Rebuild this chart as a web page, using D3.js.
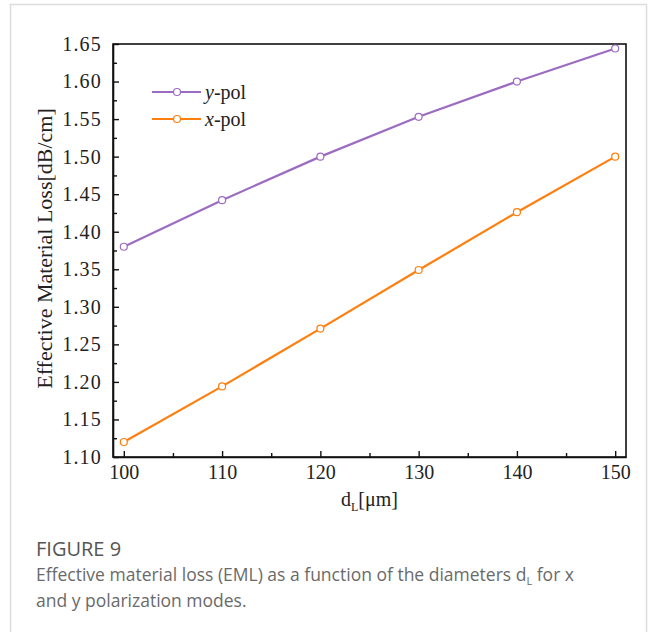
<!DOCTYPE html>
<html>
<head>
<meta charset="utf-8">
<script src="https://cdn.jsdelivr.net/npm/d3@7"></script>
<style>
  body { margin: 0; background: #fff; }
  svg { display: block; }
</style>
</head>
<body>
<svg></svg>
<script>
const width = 656, height = 632;
const margin = { left: 113, right: 30, top: 44, bottom: 175 };

// data
const diameters = [100, 110, 120, 130, 140, 150];
const yPol = [1.380, 1.442, 1.500, 1.553, 1.600, 1.644];
const xPol = [1.120, 1.194, 1.271, 1.349, 1.426, 1.500];
const xTicks = [100, 110, 120, 130, 140, 150];
const yTicks = [1.10, 1.15, 1.20, 1.25, 1.30, 1.35, 1.40, 1.45, 1.50, 1.55, 1.60, 1.65];

const series = [
  { name: "y", values: yPol, color: "#9b6cc1" },
  { name: "x", values: xPol, color: "#ff7f0e" }
];

const svg = d3.select("svg").attr("width", width).attr("height", height)
  .attr("viewBox", [0, 0, width, height]);

// card border
svg.append("rect")
  .attr("x", 10.5).attr("y", 4.5)
  .attr("width", 636).attr("height", 660)
  .attr("fill", "#fff").attr("stroke", "#dcdcdc").attr("stroke-width", 1.5);

const x_scale = d3.scaleLinear().domain([98.9, 151.1]).range([margin.left, width - margin.right]);
const y_scale = d3.scaleLinear().domain([1.10, 1.65]).range([height - margin.bottom, margin.top]);

const serif = "'Liberation Serif', 'DejaVu Serif', serif";

// frame
svg.append("rect")
  .attr("x", margin.left).attr("y", margin.top)
  .attr("width", x_scale.range()[1] - margin.left)
  .attr("height", y_scale.range()[0] - margin.top)
  .attr("fill", "none").attr("stroke", "#111").attr("stroke-width", 1.6);

// y axis
const yAxis = svg.append("g")
  .attr("transform", `translate(${margin.left},0)`)
  .call(d3.axisLeft(y_scale).tickValues(yTicks).tickFormat(d3.format(".2f"))
    .tickSizeInner(-6).tickSizeOuter(0).tickPadding(11));
yAxis.select(".domain").attr("stroke", "#111").attr("stroke-width", 1.6);
yAxis.selectAll("line").attr("stroke", "#111").attr("stroke-width", 1.4);
yAxis.selectAll("text")
  .style("font-family", serif).style("font-size", "20px")
  .attr("letter-spacing", "1.2px").attr("fill", "#222");

// y minor ticks
svg.append("g")
  .attr("transform", `translate(${margin.left},0)`)
  .call(d3.axisLeft(y_scale).tickValues(d3.range(1.125, 1.65, 0.05)).tickFormat("")
    .tickSizeInner(-4).tickSizeOuter(0))
  .call(g => g.select(".domain").remove())
  .selectAll("line").attr("stroke", "#111").attr("stroke-width", 1.4);

// x axis
const xAxis = svg.append("g")
  .attr("transform", `translate(0,${height - margin.bottom})`)
  .call(d3.axisBottom(x_scale).tickValues(xTicks)
    .tickSizeInner(-6).tickSizeOuter(0).tickPadding(8));
xAxis.select(".domain").attr("stroke", "#111").attr("stroke-width", 1.6);
xAxis.selectAll("line").attr("stroke", "#111").attr("stroke-width", 1.4);
xAxis.selectAll("text")
  .style("font-family", serif).style("font-size", "20px").attr("fill", "#222");

// x minor ticks
svg.append("g")
  .attr("transform", `translate(0,${height - margin.bottom})`)
  .call(d3.axisBottom(x_scale).tickValues([105, 115, 125, 135, 145]).tickFormat("")
    .tickSizeInner(-4).tickSizeOuter(0))
  .call(g => g.select(".domain").remove())
  .selectAll("line").attr("stroke", "#111").attr("stroke-width", 1.4);

// x label
const xl = svg.append("text")
  .attr("x", (margin.left + width - margin.right) / 2)
  .attr("y", height - margin.bottom + 49)
  .attr("text-anchor", "middle")
  .style("font-family", serif).style("font-size", "20px").attr("fill", "#222");
xl.append("tspan").text("d");
xl.append("tspan").attr("dy", 5).style("font-size", "12px").text("L");
xl.append("tspan").attr("dy", -5).text("[μm]");

// y label
svg.append("text")
  .attr("transform", `translate(52, ${(margin.top + height - margin.bottom) / 2 - 2}) rotate(-90)`)
  .attr("text-anchor", "middle")
  .style("font-family", serif).style("font-size", "22px").attr("fill", "#222")
  .text("Effective Material Loss[dB/cm]");

// lines
const line_generator = d3.line()
  .x((d, i) => x_scale(diameters[i]))
  .y(d => y_scale(d));

series.forEach(s => {
  svg.append("path")
    .attr("fill", "none")
    .attr("stroke", s.color)
    .attr("stroke-width", 2.2)
    .attr("d", line_generator(s.values));
  svg.append("g").selectAll("circle")
    .data(s.values)
    .join("circle")
    .attr("cx", (d, i) => x_scale(diameters[i]))
    .attr("cy", d => y_scale(d))
    .attr("r", 3.5)
    .attr("fill", "#fff")
    .attr("stroke", s.color)
    .attr("stroke-width", 1.2);
});

// legend
const legend = svg.append("g").attr("transform", "translate(152, 92)");
series.forEach((s, i) => {
  const row = legend.append("g").attr("transform", `translate(0, ${i * 27})`);
  row.append("line").attr("x1", 0).attr("x2", 49)
    .attr("stroke", s.color).attr("stroke-width", 2.2);
  row.append("circle").attr("cx", 25).attr("r", 3.5)
    .attr("fill", "#fff").attr("stroke", s.color).attr("stroke-width", 1.2);
  const t = row.append("text").attr("x", 53).attr("y", 6.5)
    .style("font-family", serif).style("font-size", "20px").attr("fill", "#222");
  t.append("tspan").style("font-style", "italic").text(s.name);
  t.append("tspan").text("-pol");
});

// caption
const sans = "'Open Sans', 'Noto Sans', sans-serif";
svg.append("text")
  .attr("x", 36).attr("y", 556)
  .style("font-family", sans).style("font-size", "20px").style("font-weight", 500)
  .attr("fill", "#555")
  .text("FIGURE 9");
const cap1 = svg.append("text")
  .attr("x", 36).attr("y", 581)
  .style("font-family", sans).style("font-size", "17.5px").attr("fill", "#6a6a6a");
cap1.append("tspan").text("Effective material loss (EML) as a function of the diameters d");
cap1.append("tspan").attr("dy", 4).style("font-size", "11px").text("L");
cap1.append("tspan").attr("dy", -4).text(" for x");
svg.append("text")
  .attr("x", 36).attr("y", 607)
  .style("font-family", sans).style("font-size", "17.5px").attr("fill", "#6a6a6a")
  .text("and y polarization modes.");
</script>
</body>
</html>
